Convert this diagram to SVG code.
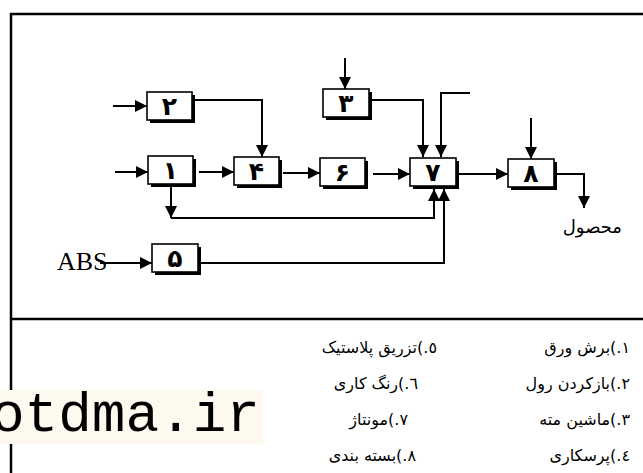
<svg xmlns="http://www.w3.org/2000/svg" width="643" height="473" viewBox="0 0 643 473">
<defs>
<marker id="ah" viewBox="0 0 12 12" refX="12" refY="6" markerWidth="12" markerHeight="12" markerUnits="userSpaceOnUse" orient="auto">
<path d="M0,0 L12,6 L0,12 Z" fill="#000"/>
</marker>
<style>
.frame{fill:none;stroke:#000;stroke-width:2.5}
.sh{fill:#000}
.bx{fill:#fff;stroke:#000;stroke-width:1.6}
.num{font-family:"DejaVu Sans",sans-serif;font-weight:bold;font-size:25px;text-anchor:middle}
.c{fill:none;stroke:#000;stroke-width:2}
.ca{fill:none;stroke:#000;stroke-width:2;marker-end:url(#ah)}
.fa{font-family:"DejaVu Sans",sans-serif;font-size:16px;fill:#000}
</style>
</defs>
<rect width="643" height="473" fill="#fff"/>
<g id="frame">
<path class="frame" d="M11,473 L11,14 L645,14"/>
<line class="frame" x1="11" y1="319" x2="645" y2="319"/>
</g>
<g id="connectors">
<line class="ca" x1="113" y1="106" x2="147" y2="106"/>
<polyline class="ca" points="193,100 262,100 262,157"/>
<line class="ca" x1="115" y1="172" x2="148" y2="172"/>
<line class="ca" x1="199" y1="172" x2="234" y2="172"/>
<line class="ca" x1="283" y1="173" x2="320" y2="173"/>
<line class="ca" x1="373" y1="174" x2="410" y2="174"/>
<line class="ca" x1="458" y1="174" x2="508" y2="174"/>
<polyline class="ca" points="556,174 584,174 584,208"/>
<line class="ca" x1="531" y1="118" x2="531" y2="159"/>
<line class="ca" x1="345" y1="58" x2="345" y2="89"/>
<polyline class="ca" points="372,100 423,100 423,157"/>
<polyline class="ca" points="470,93 441,93 441,157"/>
<line class="ca" x1="171" y1="185" x2="171" y2="218"/>
<polyline class="ca" points="171,218 434,218 434,189"/>
<line class="ca" x1="100" y1="263" x2="152" y2="263"/>
<polyline class="ca" points="199,263 444,263 444,189"/>
</g>
<g id="n2"><rect class="sh" x="150" y="95" width="45" height="28"/><rect class="bx" x="147" y="92" width="45" height="28"/><text class="num" x="169.5" y="115">۲</text></g>
<g id="n1"><rect class="sh" x="151" y="159" width="45" height="28"/><rect class="bx" x="148" y="156" width="45" height="28"/><text class="num" x="170.5" y="179">۱</text></g>
<g id="n4"><rect class="sh" x="237" y="160" width="45" height="28"/><rect class="bx" x="234" y="157" width="45" height="28"/><text class="num" x="256.5" y="180">۴</text></g>
<g id="n6"><rect class="sh" x="323" y="161" width="45" height="28"/><rect class="bx" x="320" y="158" width="45" height="28"/><text class="num" x="342.5" y="181">۶</text></g>
<g id="n7"><rect class="sh" x="413" y="161" width="46" height="28"/><rect class="bx" x="410" y="158" width="46" height="28"/><text class="num" x="433" y="181">۷</text></g>
<g id="n8"><rect class="sh" x="511" y="162" width="46" height="28"/><rect class="bx" x="508" y="159" width="46" height="28"/><text class="num" x="531" y="182">۸</text></g>
<g id="n3"><rect class="sh" x="326" y="92" width="46" height="28"/><rect class="bx" x="323" y="89" width="46" height="28"/><text class="num" x="346" y="112">۳</text></g>
<g id="n5"><rect class="sh" x="155" y="247" width="46" height="28"/><rect class="bx" x="152" y="244" width="46" height="28"/><text class="num" x="175" y="267">۵</text></g>
<g id="labels">
<text x="57" y="270" font-family="Liberation Serif, serif" font-size="26">ABS</text>
<text x="622" y="233" font-family="DejaVu Sans, sans-serif" font-size="18" text-anchor="end">محصول</text>
</g>
<g id="legend">
<text class="fa" x="630" y="353" direction="rtl">١.)برش ورق</text>
<text class="fa" x="630" y="389" direction="rtl">٢.)بازکردن رول</text>
<text class="fa" x="630" y="425" direction="rtl">٣.)ماشین مته</text>
<text class="fa" x="630" y="461" direction="rtl">٤.)پرسکاری</text>
<text class="fa" x="437" y="353" direction="rtl">٥.)تزریق پلاستیک</text>
<text class="fa" x="418" y="389" direction="rtl">٦.)رنگ کاری</text>
<text class="fa" x="408" y="425" direction="rtl">٧.)مونتاژ</text>
<text class="fa" x="416" y="461" direction="rtl">٨.)بسته بندی</text>
</g>
<g id="watermark">
<rect x="0" y="390" width="263" height="54" fill="#fdf9ee"/>
<text x="-9" y="431" font-family="Liberation Mono, monospace" font-size="56">otdma.ir</text>
</g>
</svg>
